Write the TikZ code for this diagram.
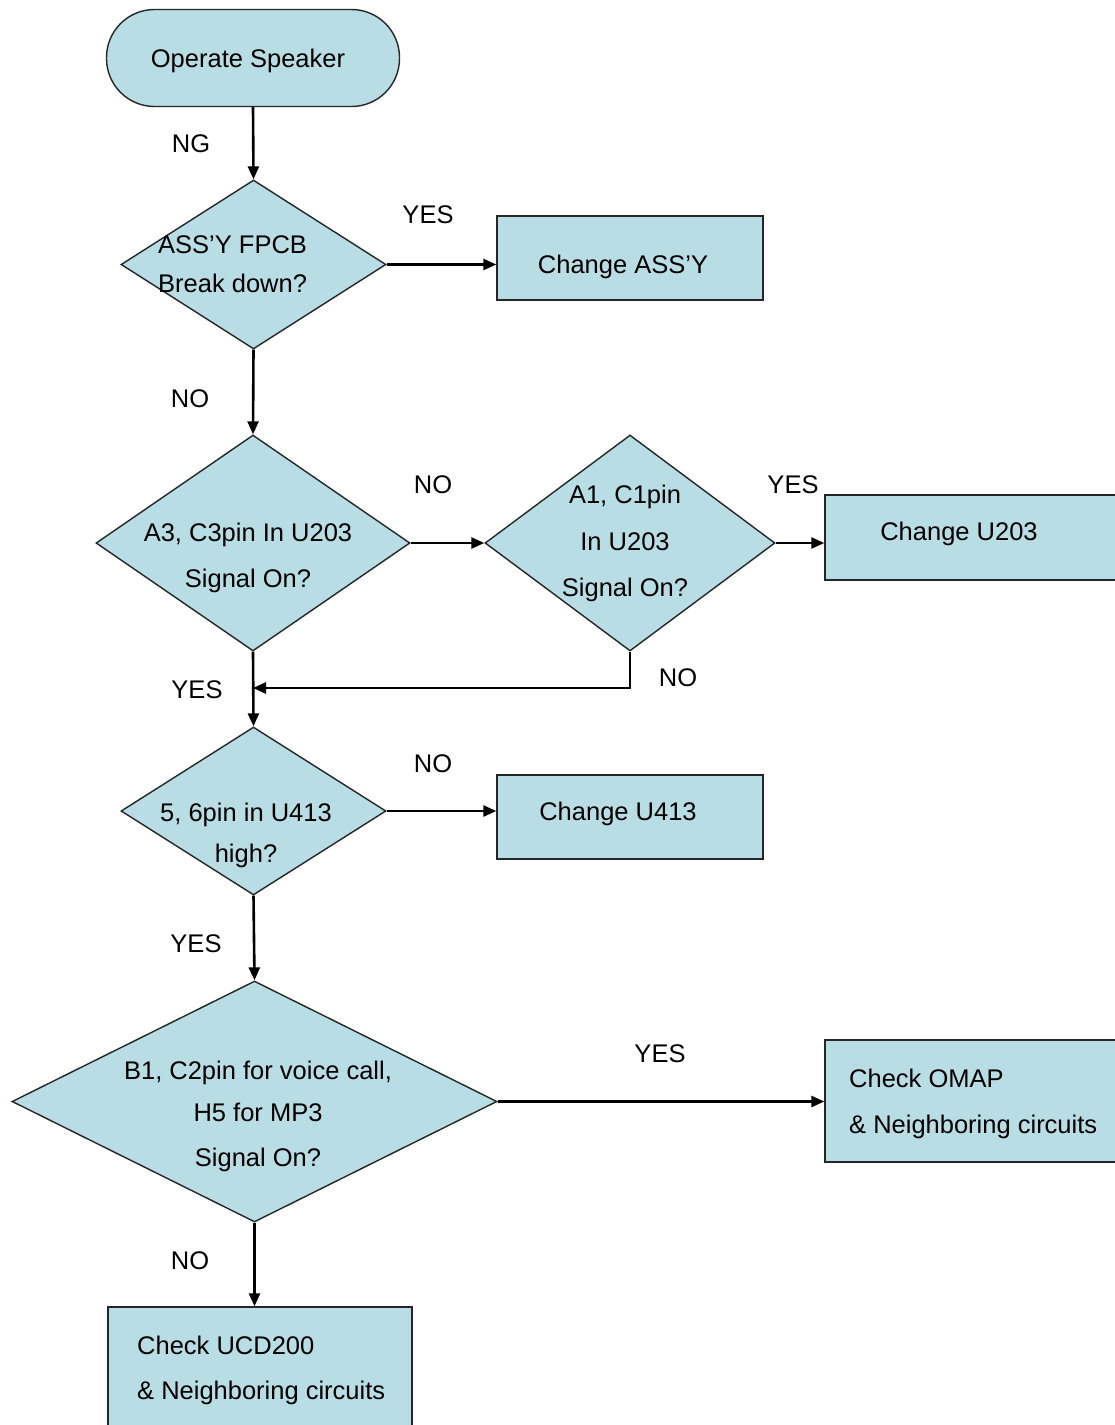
\documentclass[tikz,border=0pt]{standalone}
\usepackage{fontspec}
\setmainfont{Liberation Sans}
\usetikzlibrary{shapes.geometric,arrows.meta}
\definecolor{boxfill}{RGB}{184,221,228}
\begin{document}
\begin{tikzpicture}[x=1pt,y=-1pt,
  shapebase/.style={draw=black!85,line width=1.4pt,fill=boxfill,inner sep=0pt},
  term/.style={shapebase,rectangle,rounded corners=48pt},
  dia/.style={shapebase,diamond},
  proc/.style={shapebase,rectangle},
  txt/.style={inner sep=0pt,font=\fontsize{25.5}{30}\selectfont,anchor=base},
  txtl/.style={txt,anchor=base west},
  conn/.style={line width=2.6pt,-{Triangle[length=13pt,width=11pt]}}]
\useasboundingbox (0,0) rectangle (1115,1425);
\clip (0,0) rectangle (1115,1425);
\fill[white] (0,0) rectangle (1115,1425);

% shapes
\node[term,minimum width=293pt,minimum height=97pt] (term) at (253,58) {};
\node[dia,minimum width=265pt,minimum height=169pt] (d1) at (253.5,264.5) {};
\node[proc,minimum width=266pt,minimum height=84pt] (b1) at (630,258) {};
\node[dia,minimum width=314pt,minimum height=216pt] (d2) at (253,543) {};
\node[dia,minimum width=290pt,minimum height=216pt] (d3) at (630,543) {};
\node[proc,minimum width=305pt,minimum height=85pt] (b2) at (977.5,537.5) {};
\node[dia,minimum width=265pt,minimum height=168pt] (d4) at (253.5,811) {};
\node[proc,minimum width=266pt,minimum height=84pt] (b3) at (630,817) {};
\node[dia,minimum width=485pt,minimum height=241pt] (d5) at (254.5,1101.5) {};
\node[proc,minimum width=305pt,minimum height=122pt] (b4) at (977.5,1101) {};
\node[proc,minimum width=304pt,minimum height=133pt] (b5) at (260,1373.5) {};

% texts
\node[txt] (tterm) at (248,67) {Operate Speaker};
\node[txtl] (td1a) at (158,253) {ASS'Y FPCB};
\node[txtl] (td1b) at (158,292) {Break down?};
\node[txt] (tb1) at (623,273) {Change ASS'Y};
\node[txt] (td2a) at (248,541) {A3, C3pin In U203};
\node[txt] (td2b) at (248,587) {Signal On?};
\node[txt] (td3a) at (625,503) {A1, C1pin};
\node[txt] (td3b) at (625,550) {In U203};
\node[txt] (td3c) at (625,596) {Signal On?};
\node[txt] (tb2) at (959,540) {Change U203};
\node[txt] (td4a) at (246,821) {5, 6pin in U413};
\node[txt] (td4b) at (246,862) {high?};
\node[txt] (tb3) at (618,820) {Change U413};
\node[txt] (td5a) at (258,1079) {B1, C2pin for voice call,};
\node[txt] (td5b) at (258,1121) {H5 for MP3};
\node[txt] (td5c) at (258,1166) {Signal On?};
\node[txtl] (tb4a) at (849,1087) {Check OMAP};
\node[txtl] (tb4b) at (849,1133) {\& Neighboring circuits};
\node[txtl] (tb5a) at (137,1354) {Check UCD200};
\node[txtl] (tb5b) at (137,1399) {\& Neighboring circuits};

% labels
\node[txt] (lng) at (191,152) {NG};
\node[txt] (ly1) at (428,223) {YES};
\node[txt] (ln1) at (190,407) {NO};
\node[txt] (ln2) at (433,493) {NO};
\node[txt] (ly2) at (793,493) {YES};
\node[txt] (ln3) at (678,686) {NO};
\node[txt] (ly3) at (197,698) {YES};
\node[txt] (ln4) at (433,772) {NO};
\node[txt] (ly4) at (196,952) {YES};
\node[txt] (ly5) at (660,1062) {YES};
\node[txt] (ln5) at (190,1269) {NO};

% connectors
\coordinate (merge) at (d2.south |- 0,688);
\draw[conn] (term.south) -- (d1.north);
\draw[conn] (d1.east) -- (d1.east -| b1.west);
\draw[conn] (d1.south) -- (d2.north);
\draw[conn] (d2.east) -- (d3.west);
\draw[conn] (d3.east) -- (d3.east -| b2.west);
\draw[conn] (d3.south) |- (merge);
\draw[conn] (d2.south) -- (d4.north);
\draw[conn] (d4.east) -- (d4.east -| b3.west);
\draw[conn] (d4.south) -- (d5.north);
\draw[conn] (d5.east) -- (d5.east -| b4.west);
\draw[conn] (d5.south) -- (d5.south |- b5.north);
\end{tikzpicture}
\end{document}
